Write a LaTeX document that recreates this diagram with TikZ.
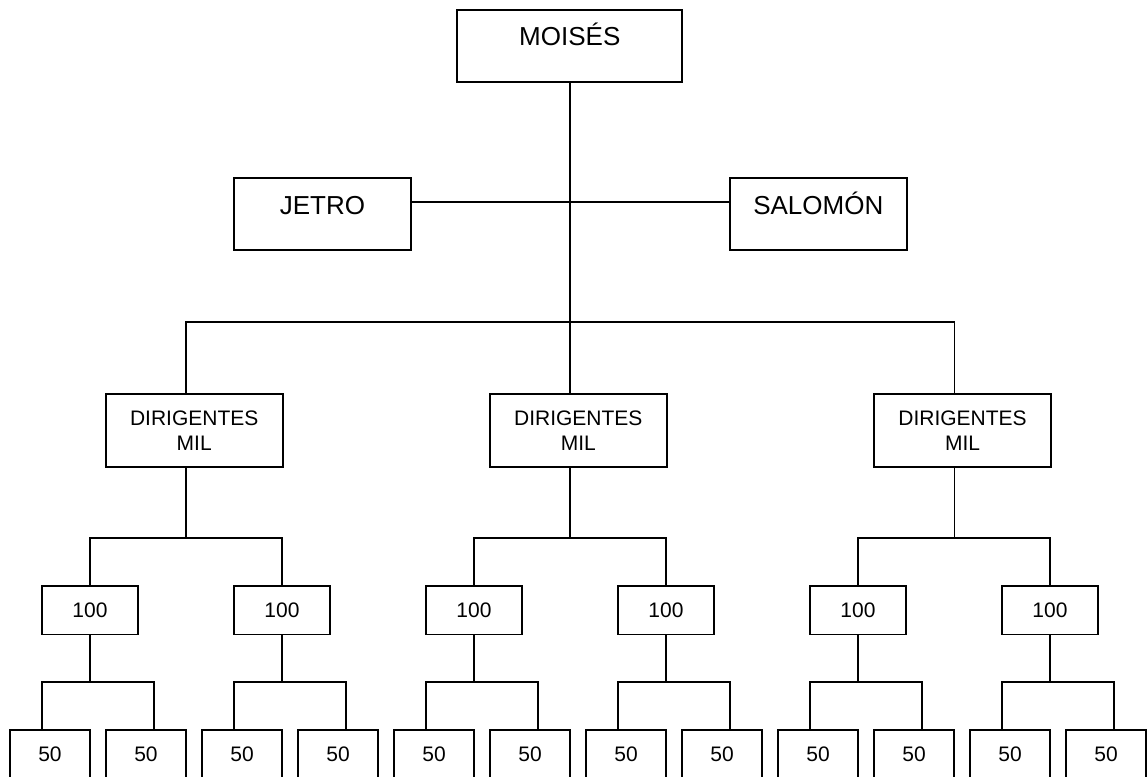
\documentclass[tikz,border=0pt]{standalone}
\usepackage{fontspec}
\setmainfont{Liberation Sans}
\usetikzlibrary{calc}
\begin{document}
\begin{tikzpicture}[x=0.75pt, y=-0.75pt,
  every node/.style={draw, line width=1.3pt, inner sep=2pt, outer sep=0pt},
  toplevel/.style={font=\fontsize{19.5}{23}\selectfont, text height=14pt, text depth=14pt,
    minimum height=54pt},
  chiefbox/.style={font=\fontsize{15.75}{18.75}\selectfont, align=center,
    minimum width=132.75pt, minimum height=54.3pt},
  hundredbox/.style={font=\fontsize{15.75}{18.75}\selectfont,
    minimum width=72.4pt, minimum height=36.3pt},
  fiftybox/.style={font=\fontsize{15.75}{18.75}\selectfont,
    minimum width=60.3pt, minimum height=36pt},
  link/.style={line width=1.3pt}]
\useasboundingbox (0,0) rectangle (1148,776);
\clip (0,0) rectangle (1148,776);

% top level
\node[toplevel, minimum width=168.75pt] (moises) at (569.8,45.9) {MOISÉS};
\node[toplevel, minimum width=132.75pt] (jetro) at (322.5,214) {JETRO};
\node[toplevel, minimum width=132.5pt] (salomon) at (818.3,214) {SALOMÓN};

% leaders of thousands
\node[chiefbox] (d1) at (194.2,430.5) {DIRIGENTES\\MIL};
\node[chiefbox] (d2) at (578.3,430.5) {DIRIGENTES\\MIL};
\node[chiefbox] (d3) at (962.5,430.5) {DIRIGENTES\\MIL};

% leaders of hundreds and fifties
\foreach \i/\c in {1/90,2/282,3/474,4/666,5/858,6/1050} {
  \node[hundredbox] (h\i) at (\c,610.4) {100};
  \node[fiftybox] (f\i a) at (\c-40,754) {50};
  \node[fiftybox] (f\i b) at (\c+56,754) {50};
}

% connectors
\draw[link] (moises.south) -- (moises.south |- d2.north);
\draw[link] ([yshift=9pt]jetro.east) -- ([yshift=9pt]salomon.west);
\draw[link] ([xshift=-6pt]d1.north) -- ++(0,-72) -| ([xshift=-6pt]d3.north);

\foreach \d/\a/\b in {d1/h1/h2, d2/h3/h4, d3/h5/h6} {
  \draw[link] ([xshift=-6pt]\d.south) -- ++(0,71.6);
  \draw[link] (\a.north) -- ++(0,-48.2) -| (\b.north);
}

\foreach \i in {1,...,6} {
  \draw[link] (h\i.south) -- ++(0,48);
  \draw[link] ([xshift=-6pt]f\i a.north) -- ++(0,-48) -| ([xshift=6pt]f\i b.north);
}
\end{tikzpicture}
\end{document}
